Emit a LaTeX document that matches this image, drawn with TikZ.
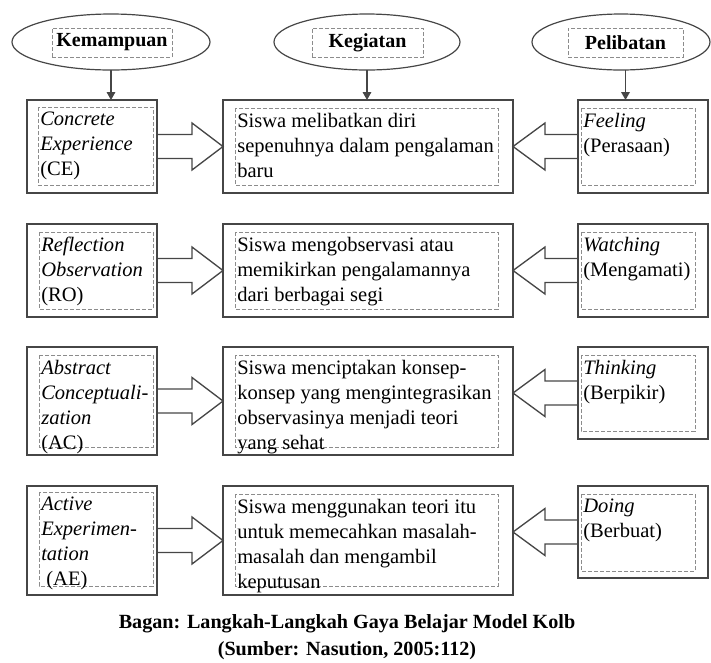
\documentclass[tikz,border=0pt]{standalone}
\usepackage{fontspec}
\setmainfont{Liberation Serif}
\usetikzlibrary{shapes.geometric,arrows.meta}

\definecolor{linegray}{RGB}{70,70,70}
\definecolor{dashgray}{RGB}{140,140,140}

\begin{document}
\begin{tikzpicture}[x=0.75pt,y=0.75pt,yscale=-1,xscale=1,
		head/.style={ellipse, draw=linegray, line width=0.9pt, inner sep=0pt, outer sep=0pt},
		headlbl/.style={draw=dashgray, dash pattern=on 3pt off 1.5pt, line width=0.6pt, inner sep=0pt, font=\fontsize{15}{18}\selectfont\bfseries},
		box/.style={rectangle, draw=linegray, line width=1.4pt, inner sep=0pt, outer sep=0pt, anchor=north west},
		dashbox/.style={draw=dashgray, dash pattern=on 3pt off 1.5pt, line width=0.6pt},
		txt/.style={anchor=north west, align=left, inner xsep=1.5pt, inner ysep=3.5pt, font=\fontsize{15.4}{18.75}\selectfont},
		down/.style={draw=linegray, line width=0.9pt, -{Triangle[length=6pt,width=6.5pt]}},
		fat/.style={draw=linegray, line width=1pt, line join=miter}]
		\useasboundingbox (0,0) rectangle (711,662);
		
		% Heads
		\node[head, minimum width=148.5pt, minimum height=42pt] (kem) at (111,42) {};
		\node[headlbl, minimum width=90pt, minimum height=21.75pt] (kem-l) at (112,42.5) {Kemampuan};
		\node[head, minimum width=139.5pt, minimum height=42pt] (keg) at (367,42) {};
		\node[headlbl, minimum width=83.25pt, minimum height=21.75pt] (keg-l) at (367.5,42.5) {Kegiatan};
		\node[head, minimum width=133.5pt, minimum height=42pt] (pel) at (621,42) {};
		\node[headlbl, minimum width=86.25pt, minimum height=21.75pt] (pel-l) at (625.5,42.5) {Pelibatan};
		
		% Row 1
		\node[box, minimum width=97.5pt, minimum height=69.75pt] (ce) at (27,100) {};
		\node[box, minimum width=217.5pt, minimum height=69.75pt] (ke1) at (223,100) {};
		\node[box, minimum width=97.5pt, minimum height=69.75pt] (fe) at (578,100) {};
		\draw[dashbox] (38,107) rectangle (153,185);
		\draw[dashbox] (235,108) rectangle (498,185);
		\draw[dashbox] (581,108) rectangle (695,185);
		\node[txt] (ce-t) at (38,107) {\textit{Concrete}\\\textit{Experience}\\(CE)};
		\node[txt] (ke1-t) at (235,108) {Siswa melibatkan diri\\sepenuhnya dalam pengalaman\\baru};
		\node[txt] (fe-t) at (581,108) {\textit{Feeling}\\(Perasaan)};
		
		% Row 2
		\node[box, minimum width=97.5pt, minimum height=69.75pt] (ro) at (27,224) {};
		\node[box, minimum width=217.5pt, minimum height=69.75pt] (ke2) at (223,224) {};
		\node[box, minimum width=97.5pt, minimum height=69.75pt] (wa) at (578,224) {};
		\draw[dashbox] (39,232) rectangle (153,309);
		\draw[dashbox] (235,232) rectangle (498,309);
		\draw[dashbox] (581,232) rectangle (695,309);
		\node[txt] (ro-t) at (39,232) {\textit{Reflection}\\\textit{Observation}\\(RO)};
		\node[txt] (ke2-t) at (235,232) {Siswa mengobservasi atau\\memikirkan pengalamannya\\dari berbagai segi};
		\node[txt] (wa-t) at (581,232) {\textit{Watching}\\(Mengamati)};
		
		% Row 3
		\node[box, minimum width=97.5pt, minimum height=81pt] (ac) at (27,347) {};
		\node[box, minimum width=217.5pt, minimum height=81pt] (ke3) at (223,347) {};
		\node[box, minimum width=97.5pt, minimum height=69pt] (th) at (578,347) {};
		\draw[dashbox] (39,355) rectangle (153,447);
		\draw[dashbox] (235,355) rectangle (498,447);
		\draw[dashbox] (581,355) rectangle (695,431);
		\node[txt] (ac-t) at (39,355) {\textit{Abstract}\\\textit{Conceptuali-}\\\textit{zation}\\(AC)};
		\node[txt] (ke3-t) at (235,355) {Siswa menciptakan konsep-\\konsep yang mengintegrasikan\\observasinya menjadi teori\\yang sehat};
		\node[txt] (th-t) at (581,355) {\textit{Thinking}\\(Berpikir)};
		
		% Row 4
		\node[box, minimum width=97.5pt, minimum height=81.75pt] (ae) at (27,486) {};
		\node[box, minimum width=217.5pt, minimum height=81.75pt] (ke4) at (223,486) {};
		\node[box, minimum width=97.5pt, minimum height=69pt] (do) at (578,486) {};
		\draw[dashbox] (39,492) rectangle (153,586);
		\draw[dashbox] (235,494) rectangle (498,586);
		\draw[dashbox] (581,494) rectangle (695,571);
		\node[txt] (ae-t) at (39,492) {\textit{Active}\\\textit{Experimen-}\\\textit{tation}\\\ (AE)};
		\node[txt] (ke4-t) at (235,494) {Siswa menggunakan teori itu\\untuk memecahkan masalah-\\masalah dan mengambil\\keputusan};
		\node[txt] (do-t) at (581,494) {\textit{Doing}\\(Berbuat)};
		
		% Down arrows
		\draw[down] (kem.south) -- (kem.south |- ce.north);
		\draw[down] (keg.south) -- (keg.south |- ke1.north);
		\draw[down] (pel-l.south |- pel.south) -- (pel-l.south |- fe.north);
		
		% Block arrows, left
		\draw[fat] (ce.east) ++(0,-12) -- ++(35,0) -- ++(0,-11.5) -- (ke1.west |- ce.east) -- ++(-31,23.5) -- ++(0,-11.5) -- ++(-35,0);
		\draw[fat] (ro.east) ++(0,-12) -- ++(35,0) -- ++(0,-11.5) -- (ke2.west |- ro.east) -- ++(-31,23.5) -- ++(0,-11.5) -- ++(-35,0);
		\draw[fat] (ac.east) ++(0,-12) -- ++(35,0) -- ++(0,-11.5) -- (ke3.west |- ac.east) -- ++(-31,23.5) -- ++(0,-11.5) -- ++(-35,0);
		\draw[fat] (ae.east) ++(0,-12) -- ++(35,0) -- ++(0,-11.5) -- (ke4.west |- ae.east) -- ++(-31,23.5) -- ++(0,-11.5) -- ++(-35,0);
		
		% Block arrows, right
		\draw[fat] (fe.west) ++(0,-12) -- ++(-33,0) -- ++(0,-11.5) -- (ke1.east |- fe.west) -- ++(32,23.5) -- ++(0,-11.5) -- ++(33,0);
		\draw[fat] (wa.west) ++(0,-12) -- ++(-33,0) -- ++(0,-11.5) -- (ke2.east |- wa.west) -- ++(32,23.5) -- ++(0,-11.5) -- ++(33,0);
		\draw[fat] (th.west) ++(0,-12) -- ++(-33,0) -- ++(0,-11.5) -- (ke3.east |- th.west) -- ++(32,23.5) -- ++(0,-11.5) -- ++(33,0);
		\draw[fat] (do.west) ++(0,-12) -- ++(-33,0) -- ++(0,-11.5) -- (ke4.east |- do.west) -- ++(32,23.5) -- ++(0,-11.5) -- ++(33,0);
		
		% Caption
		\node[align=center, font=\fontsize{15.1}{20.2}\selectfont\bfseries] (cap) at (347,637) {Bagan: Langkah-Langkah Gaya Belajar Model Kolb\\(Sumber: Nasution, 2005:112)};
		
\end{tikzpicture}
\end{document}
